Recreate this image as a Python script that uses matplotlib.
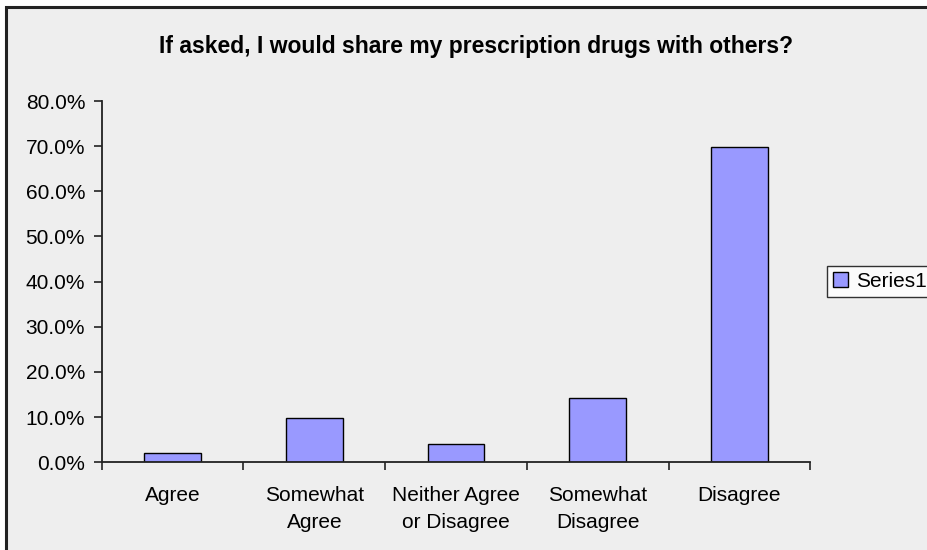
import matplotlib.pyplot as plt
from matplotlib.patches import Rectangle
from matplotlib.ticker import FuncFormatter, FixedLocator
import numpy as np

plt.rcParams['font.family'] = ['Liberation Sans', 'DejaVu Sans']

categories = ["Agree", "Somewhat\nAgree", "Neither Agree\nor Disagree",
              "Somewhat\nDisagree", "Disagree"]
values = [2.0, 9.7, 4.0, 14.2, 69.8]  # percent
series_name = "Series1"
title = "If asked, I would share my prescription drugs with others?"

bg = "#eeeeee"
bar_color = "#9999ff"

fig = plt.figure(figsize=(9.28, 5.5), dpi=100, facecolor="white")

# chart area with border (only top/left edge visible, rest runs off the image)
frame = Rectangle((6.5 / 928, -1.0), 3.0, 2.0 - 6.5 / 550,
                  transform=fig.transFigure, facecolor=bg,
                  edgecolor="#222222", linewidth=2.2, zorder=-5)
fig.add_artist(frame)

ax = fig.add_axes([101.8 / 928, 1 - 462.3 / 550,
                   (810.3 - 101.8) / 928, (462.3 - 101) / 550])
ax.set_facecolor(bg)
ax.set_zorder(2)

x = np.arange(len(categories))
ax.bar(x, values, width=0.4, color=bar_color, edgecolor="black",
       linewidth=1.0, label=series_name, zorder=2)

ax.set_xlim(-0.5, len(categories) - 0.5)
ax.set_ylim(0, 80)
ax.set_yticks(np.arange(0, 81, 10))
ax.yaxis.set_major_formatter(FuncFormatter(lambda v, p: "%.1f%%" % v))

# category labels centered, tick marks between categories
ax.set_xticks(x)
ax.set_xticklabels(categories, fontsize=15, linespacing=1.57)
ax.tick_params(axis="x", which="major", length=0, pad=17)
ax.xaxis.set_minor_locator(FixedLocator(np.arange(-0.5, len(categories), 1)))
ax.tick_params(axis="x", which="minor", length=6, width=1.2, color="#222222",
               direction="out")
ax.tick_params(axis="y", length=6, width=1.2, color="#222222", labelsize=15,
               pad=6)

for s in ["top", "right"]:
    ax.spines[s].set_visible(False)
for s in ["left", "bottom"]:
    ax.spines[s].set_color("#222222")
    ax.spines[s].set_linewidth(1.3)

fig.text(476 / 928, 1 - 46 / 550, title, ha="center", va="center",
         fontsize=16.5, fontweight="bold")

leg = fig.legend(loc="center left", bbox_to_anchor=(826.7 / 928, 1 - 281.5 / 550),
                 fontsize=15, frameon=True, fancybox=False, shadow=False,
                 handlelength=0.7, handleheight=0.7, handletextpad=0.4,
                 borderpad=0.3, borderaxespad=0)
leg.get_frame().set_edgecolor("black")
leg.get_frame().set_linewidth(1.0)
leg.get_frame().set_facecolor("white")
leg.set_zorder(3)

fig.savefig("out.png", dpi=100, facecolor=fig.get_facecolor())
